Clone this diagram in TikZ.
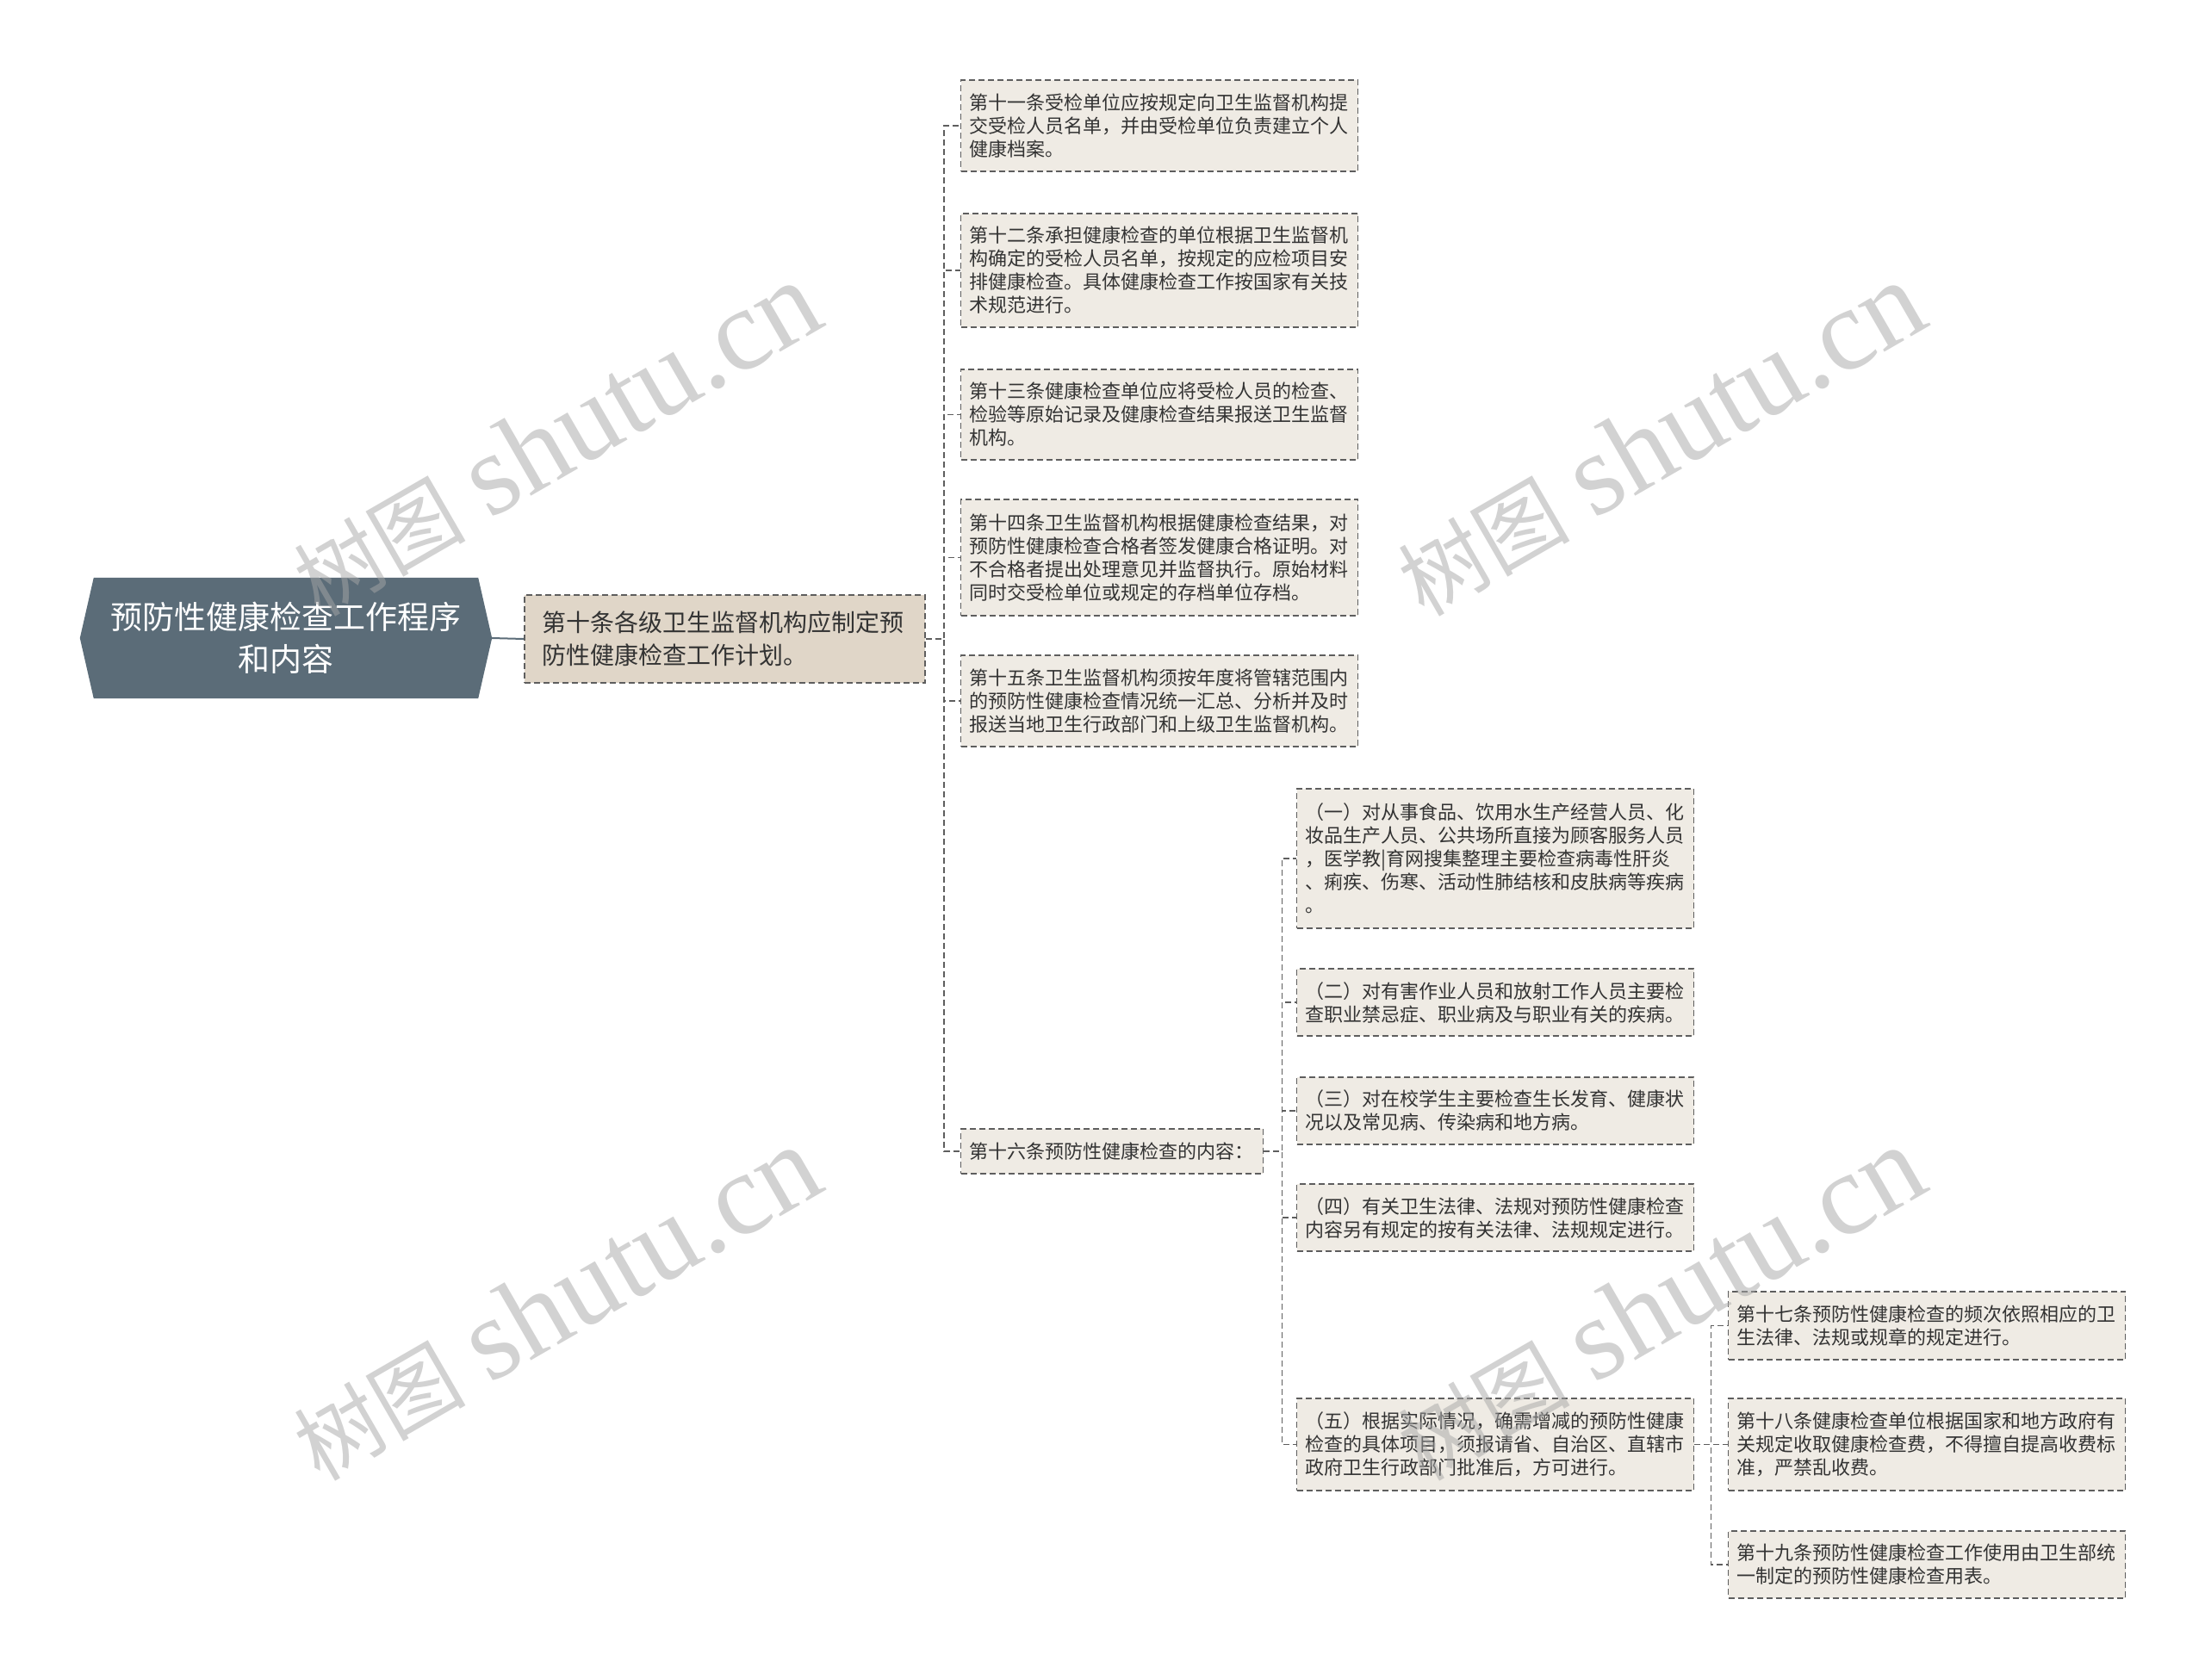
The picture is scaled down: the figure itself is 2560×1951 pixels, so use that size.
\documentclass[tikz,border=0pt]{standalone}
\usepackage{fontspec}
\newfontfamily\cjk{Noto Sans CJK SC}
\newfontfamily\wmlat{Liberation Serif}
\usetikzlibrary{backgrounds}
\definecolor{rootfill}{HTML}{5B6C78}
\definecolor{lonefill}{HTML}{E0D6C8}
\definecolor{leaffill}{HTML}{EFEBE4}
\definecolor{bordercol}{HTML}{5E5E5E}
\definecolor{txt}{HTML}{333333}
\definecolor{wm}{HTML}{A6A6A6}
\tikzset{
  box/.style={draw=bordercol, line width=1.6pt, dash pattern=on 7pt off 4pt, align=left, text=txt, inner ysep=0pt},
  leaf/.style={box, fill=leaffill, text width=441pt, inner xsep=10pt, font=\cjk\fontsize{22}{27}\selectfont},
  shortleaf/.style={box, fill=leaffill, text width=331pt, inner xsep=10pt, font=\cjk\fontsize{22}{27}\selectfont},
  lone/.style={box, fill=lonefill, text width=425pt, inner xsep=20pt, font=\cjk\fontsize{28}{37.5}\selectfont},
  rootnode/.style={text=white, align=center, minimum width=478pt, minimum height=140pt, font=\cjk\fontsize{37}{49}\selectfont},
  conn/.style={draw=bordercol, line width=1.6pt, dash pattern=on 7pt off 4pt},
  wmark/.style={text=wm, text opacity=0.5, rotate=30, inner sep=0pt}
}
\begin{document}
\begin{tikzpicture}[x=1pt,y=-1pt]
\useasboundingbox (0,0) rectangle (2560,1951);

% root
\node[rootnode] (root) at (332,741) {预防性健康检查工作程序\\和内容};

% level 1
\node[lone, minimum height=102pt] (lone) at (841.5,742) {第十条各级卫生监督机构应制定预\\防性健康检查工作计划。};

% level 2
\node[leaf, minimum height=106pt] (a11) at (1346,146) {第十一条受检单位应按规定向卫生监督机构提\\交受检人员名单，并由受检单位负责建立个人\\健康档案。};
\node[leaf, minimum height=132pt] (a12) at (1346,314) {第十二条承担健康检查的单位根据卫生监督机\\构确定的受检人员名单，按规定的应检项目安\\排健康检查。具体健康检查工作按国家有关技\\术规范进行。};
\node[leaf, minimum height=105pt] (a13) at (1346,481.5) {第十三条健康检查单位应将受检人员的检查、\\检验等原始记录及健康检查结果报送卫生监督\\机构。};
\node[leaf, minimum height=135pt] (a14) at (1346,647.5) {第十四条卫生监督机构根据健康检查结果，对\\预防性健康检查合格者签发健康合格证明。对\\不合格者提出处理意见并监督执行。原始材料\\同时交受检单位或规定的存档单位存档。};
\node[leaf, minimum height=106pt] (a15) at (1346,814) {第十五条卫生监督机构须按年度将管辖范围内\\的预防性健康检查情况统一汇总、分析并及时\\报送当地卫生行政部门和上级卫生监督机构。};
\node[shortleaf, minimum height=52pt] (a16) at (1291,1337) {第十六条预防性健康检查的内容：};

% level 3
\node[leaf, minimum height=162pt] (b1) at (1736,997) {（一）对从事食品、饮用水生产经营人员、化\\妆品生产人员、公共场所直接为顾客服务人员\\，医学教|育网搜集整理主要检查病毒性肝炎\\、痢疾、伤寒、活动性肺结核和皮肤病等疾病\\。};
\node[leaf, minimum height=78pt] (b2) at (1736,1164) {（二）对有害作业人员和放射工作人员主要检\\查职业禁忌症、职业病及与职业有关的疾病。};
\node[leaf, minimum height=78pt] (b3) at (1736,1290) {（三）对在校学生主要检查生长发育、健康状\\况以及常见病、传染病和地方病。};
\node[leaf, minimum height=78pt] (b4) at (1736,1414) {（四）有关卫生法律、法规对预防性健康检查\\内容另有规定的按有关法律、法规规定进行。};
\node[leaf, minimum height=107pt] (b5) at (1736,1677.5) {（五）根据实际情况，确需增减的预防性健康\\检查的具体项目，须报请省、自治区、直辖市\\政府卫生行政部门批准后，方可进行。};

% level 4
\node[leaf, minimum height=79pt] (c1) at (2237,1539.5) {第十七条预防性健康检查的频次依照相应的卫\\生法律、法规或规章的规定进行。};
\node[leaf, minimum height=107pt] (c2) at (2237,1677.5) {第十八条健康检查单位根据国家和地方政府有\\关规定收取健康检查费，不得擅自提高收费标\\准，严禁乱收费。};
\node[leaf, minimum height=78pt] (c3) at (2237,1817) {第十九条预防性健康检查工作使用由卫生部统\\一制定的预防性健康检查用表。};

% background: page, root shape, connectors
\begin{scope}[on background layer]
\fill[white] (0,0) rectangle (2560,1951);
\fill[rootfill] (root.west) -- ([xshift=16pt]root.north west) -- ([xshift=-16pt]root.north east) -- (root.east) -- ([xshift=-16pt]root.south east) -- ([xshift=16pt]root.south west) -- cycle;
\draw[line width=2pt, draw=rootfill] (root.east) -- (lone.west);
\foreach \n in {a11,a12,a13,a14,a15,a16}
  \draw[conn] (lone.east) -- ++(21,0) |- (\n.west);
\foreach \n in {b1,b2,b3,b4,b5}
  \draw[conn] (a16.east) -- ++(21,0) |- (\n.west);
\foreach \n in {c1,c2,c3}
  \draw[conn] (b5.east) -- ++(19,0) |- (\n.west);
\end{scope}

% watermarks
\foreach \wx/\wy [count=\i] in {645/510, 1927/510, 645/1514, 1927/1514}
  \node[wmark] (wm\i) at (\wx,\wy) {{\cjk\fontsize{100}{100}\selectfont 树图}\hspace{28pt}{\wmlat\fontsize{135}{135}\selectfont shutu.cn}};
\end{tikzpicture}
\end{document}
